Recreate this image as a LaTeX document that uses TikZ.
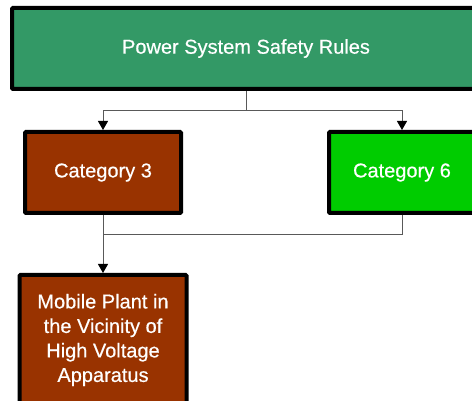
\documentclass[tikz,border=0pt]{standalone}
\usepackage{fontspec}
\setmainfont{Liberation Sans}
\newfontfamily\boxfont{Liberation Sans}[FakeBold=0.5]
\usetikzlibrary{arrows.meta}
\definecolor{rulesgreen}{HTML}{339966}
\definecolor{catbrown}{HTML}{993300}
\definecolor{catgreen}{HTML}{00CC00}

\begin{document}
\begin{tikzpicture}[x=1pt, y=1pt,
	box/.style={draw=black, line width=4pt, rounded corners=1pt, text=white, font=\boxfont\fontsize{20}{24.5}\selectfont, align=center, inner sep=0pt},
	link/.style={draw=black!65, line width=1pt},
	tip/.style={-{Triangle[width=10pt, length=9pt, color=black]}}]
	\useasboundingbox (0,0) rectangle (472,401);
	\clip (0,0) rectangle (472,401);

	%% Kaesten
	\node[box, fill=rulesgreen, minimum width=468pt, minimum height=81pt] (rules) at (246,352.5) {Power System Safety Rules};
	\node[box, fill=catbrown, minimum width=156pt, minimum height=81pt] (catthree) at (103,228.5) {Category 3};
	\node[box, fill=catgreen, minimum width=146pt, minimum height=81pt] (catsix) at (402,228.5) {Category 6};
	\node[box, fill=catbrown, minimum width=167pt, minimum height=130pt] (mobile) at (103,61) {Mobile Plant in\\the Vicinity of\\High Voltage\\Apparatus};
	%%%%%%%%%%%%%%%%

	%% Verbindungen
	\coordinate (fork) at (246,290);
	\coordinate (merge) at (103,166);
	\draw[link] (rules.south) -- (fork);
	\draw[link, tip] (fork) -| (catthree.north);
	\draw[link, tip] (fork) -| (catsix.north);
	\draw[link] (catsix.south) |- (merge);
	\draw[link] (catthree.south) -- (merge);
	\draw[link, tip] (merge) -- (mobile.north);
\end{tikzpicture}
\end{document}
